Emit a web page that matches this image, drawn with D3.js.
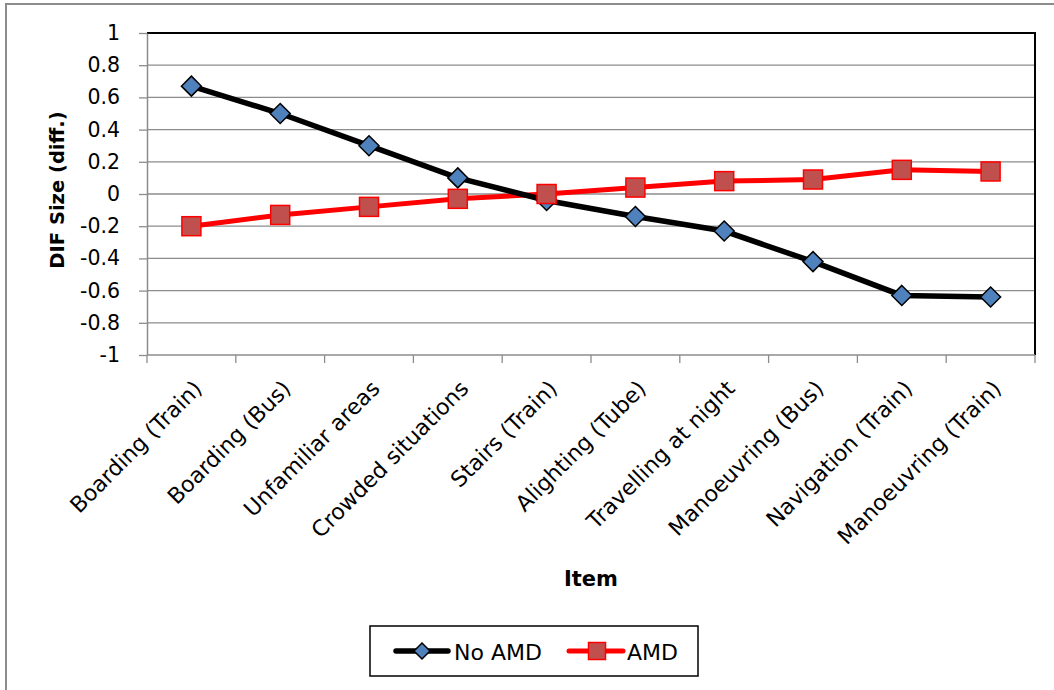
<!DOCTYPE html>
<html>
<head>
<meta charset="utf-8">
<script src="https://cdn.jsdelivr.net/npm/d3@7"></script>
<style>
  body { margin: 0; background: #fff; }
  text { font-family: "DejaVu Sans", sans-serif; fill: #000; }
</style>
</head>
<body>
<svg id="chart" width="1054" height="690"></svg>
<script>
// Items on the x axis
const categories = [
  "Boarding (Train)", "Boarding (Bus)", "Unfamiliar areas", "Crowded situations",
  "Stairs (Train)", "Alighting (Tube)", "Travelling at night", "Manoeuvring (Bus)",
  "Navigation (Train)", "Manoeuvring (Train)"
];
// DIF size per item for each group
const noAMD = [0.67, 0.50, 0.30, 0.10, -0.04, -0.14, -0.23, -0.42, -0.63, -0.64];
const amd   = [-0.20, -0.13, -0.08, -0.03, 0.00, 0.04, 0.08, 0.09, 0.15, 0.14];
const yTicks = [1, 0.8, 0.6, 0.4, 0.2, 0, -0.2, -0.4, -0.6, -0.8, -1];
const yTickLabels = ["1", "0.8", "0.6", "0.4", "0.2", "0", "-0.2", "-0.4", "-0.6", "-0.8", "-1"];

const svg = d3.select("#chart");
const plotL = 147, plotR = 1035, plotT = 33, plotB = 355;

// Outer chart frame
svg.append("rect").attr("x", 6).attr("y", 4).attr("width", 1060).attr("height", 700)
  .attr("fill", "#fff").attr("stroke", "#8c8c8c").attr("stroke-width", 2);

const x = d3.scaleBand().domain(categories).range([plotL, plotR]).padding(0);
const y = d3.scaleLinear().domain([-1, 1]).range([plotB, plotT]);

// Horizontal gridlines
svg.append("g").selectAll("line").data(yTicks.filter(t => t !== -1)).join("line")
  .attr("x1", plotL).attr("x2", plotR)
  .attr("y1", d => y(d)).attr("y2", d => y(d))
  .attr("stroke", "#8c8c8c").attr("stroke-width", 1.3);

// Top and right plot borders
svg.append("line").attr("x1", plotL).attr("x2", plotR + 1).attr("y1", plotT).attr("y2", plotT)
  .attr("stroke", "#000").attr("stroke-width", 2);
svg.append("line").attr("x1", plotR).attr("x2", plotR).attr("y1", plotT).attr("y2", plotB)
  .attr("stroke", "#000").attr("stroke-width", 2);

// Y axis
const yAxis = d3.axisLeft(y).tickValues(yTicks)
  .tickFormat((d, i) => yTickLabels[i]).tickSize(8).tickSizeOuter(0).tickPadding(19);
const gy = svg.append("g").attr("transform", `translate(${plotL},0)`).call(yAxis);
gy.select(".domain").attr("stroke", "#8c8c8c").attr("stroke-width", 1.5);
gy.selectAll(".tick line").attr("stroke", "#8c8c8c").attr("stroke-width", 1.3);
gy.selectAll(".tick text").attr("font-size", 20.5).attr("fill", "#000")
  .style("font-family", "'DejaVu Sans', sans-serif");

// X axis: baseline with ticks between categories
svg.append("line").attr("x1", plotL).attr("x2", plotR).attr("y1", plotB).attr("y2", plotB)
  .attr("stroke", "#8c8c8c").attr("stroke-width", 1.5);
const boundaries = categories.map(c => x(c)).concat([plotR]);
svg.append("g").selectAll("line").data(boundaries).join("line")
  .attr("x1", d => d).attr("x2", d => d).attr("y1", plotB).attr("y2", plotB + 8)
  .attr("stroke", "#8c8c8c").attr("stroke-width", 1.3);

svg.append("g").selectAll("text").data(categories).join("text")
  .attr("transform", d => `translate(${x(d) + x.bandwidth() / 2 + 12},${plotB + 35}) rotate(-45)`)
  .attr("text-anchor", "end")
  .attr("font-size", 22)
  .text(d => d);

// Axis titles
svg.append("text").attr("transform", `translate(64,${(plotT + plotB) / 2 - 4}) rotate(-90)`)
  .attr("text-anchor", "middle").attr("font-size", 19.5).attr("font-weight", "bold")
  .text("DIF Size (diff.)");
svg.append("text").attr("x", 591).attr("y", 586)
  .attr("text-anchor", "middle").attr("font-size", 21).attr("font-weight", "bold")
  .text("Item");

const cx = c => x(c) + x.bandwidth() / 2;
const line = d3.line().x((d, i) => cx(categories[i])).y(d => y(d));

// AMD series (drawn first, beneath)
svg.append("path").datum(amd).attr("d", line)
  .attr("fill", "none").attr("stroke", "#ff0000").attr("stroke-width", 5);
// No AMD series
svg.append("path").datum(noAMD).attr("d", line)
  .attr("fill", "none").attr("stroke", "#000").attr("stroke-width", 5.5);

function drawDiamond(g, px, py, s) {
  g.append("path")
    .attr("d", `M${px},${py - s}L${px + s},${py}L${px},${py + s}L${px - s},${py}Z`)
    .attr("fill", "#4f81bd").attr("stroke", "#000").attr("stroke-width", 1.5);
}
function drawSquare(g, px, py, s) {
  g.append("rect").attr("x", px - s).attr("y", py - s).attr("width", 2 * s).attr("height", 2 * s)
    .attr("fill", "#c0504d").attr("stroke", "#ff0000").attr("stroke-width", 1.5);
}

const gNo = svg.append("g");
noAMD.forEach((v, i) => drawDiamond(gNo, cx(categories[i]), y(v), 10));
const gA = svg.append("g");
amd.forEach((v, i) => drawSquare(gA, cx(categories[i]), y(v), 9.5));

// Legend
const lg = svg.append("g");
lg.append("rect").attr("x", 370).attr("y", 626).attr("width", 328).attr("height", 50)
  .attr("fill", "#fff").attr("stroke", "#000").attr("stroke-width", 1.5);
const ly = 651;
lg.append("line").attr("x1", 396).attr("x2", 448).attr("y1", ly).attr("y2", ly)
  .attr("stroke", "#000").attr("stroke-width", 5.5).attr("stroke-linecap", "round");
drawDiamond(lg, 422, ly, 8);
lg.append("text").attr("x", 454).attr("y", ly + 9).attr("font-size", 22).text("No AMD");
lg.append("line").attr("x1", 569).attr("x2", 623).attr("y1", ly).attr("y2", ly)
  .attr("stroke", "#ff0000").attr("stroke-width", 5).attr("stroke-linecap", "round");
drawSquare(lg, 597, ly, 8.5);
lg.append("text").attr("x", 627).attr("y", ly + 9).attr("font-size", 22).text("AMD");
</script>
</body>
</html>
